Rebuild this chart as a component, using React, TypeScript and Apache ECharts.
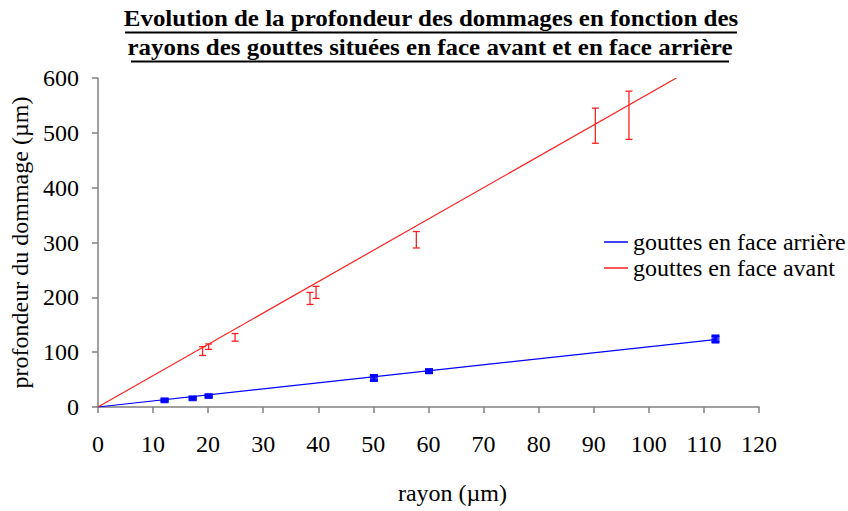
import React, { useEffect, useRef } from "react";
import * as echarts from "echarts";

const titleLines = [
  "Evolution de la profondeur des dommages en fonction des",
  "rayons des gouttes situées en face avant et en face arrière",
];
const xTicks = { min: 0, max: 120, interval: 10 };
const yTicks = { min: 0, max: 600, interval: 100 };

const seriesNames = ["gouttes en face arrière", "gouttes en face avant"];

// face arrière (blue)
const backX = [12.1, 17.2, 20.1, 50.1, 60.1, 112.1];
const backY = [12.2, 15.9, 20, 53, 65.3, 124];
const backErr = [2, 2, 2, 5, 3, 6];
const backTrend = [
  [0, 0],
  [112, 123],
];

// face avant (red)
const frontX = [19.0, 20.1, 24.9, 38.5, 39.6, 57.8, 90.3, 96.4];
const frontY = [102, 110, 127, 198, 209, 305, 513, 532];
const frontErr = [8, 5, 7, 11, 11, 15, 32, 44];
const frontTrend = [
  [0, 0],
  [105, 600],
];

const BLUE = "#0000ff";
const RED = "#ff2020";
const FONT = "Liberation Serif, Times New Roman, serif";

function errData(xs: number[], ys: number[], es: number[]) {
  return xs.map((x, i) => [x, ys[i] - es[i], ys[i] + es[i]]);
}

function errRender(color: string, lw: number, cap: number) {
  return (params: any, api: any) => {
    const x = api.value(0);
    const p1 = api.coord([x, api.value(1)]);
    const p2 = api.coord([x, api.value(2)]);
    const st = { stroke: color, lineWidth: lw };
    return {
      type: "group",
      children: [
        { type: "line", shape: { x1: p1[0], y1: p1[1], x2: p2[0], y2: p2[1] }, style: st },
        { type: "line", shape: { x1: p1[0] - cap, y1: p1[1], x2: p1[0] + cap, y2: p1[1] }, style: st },
        { type: "line", shape: { x1: p2[0] - cap, y1: p2[1], x2: p2[0] + cap, y2: p2[1] }, style: st },
      ],
    };
  };
}

export default function App() {
  const ref = useRef<HTMLDivElement>(null);
  useEffect(() => {
    if (!ref.current) return;
    const chart = echarts.init(ref.current, undefined, { renderer: "svg" });
    const axisLine = { lineStyle: { color: "#808080", width: 1.5 } };
    const titleStyle = (text: string) => ({
      text,
      fontFamily: FONT,
      fontSize: 24,
      fontWeight: "bold",
      fill: "#000",
      align: "center",
      verticalAlign: "middle",
    });
    chart.setOption({
      animation: false,
      backgroundColor: "#ffffff",
      textStyle: { fontFamily: FONT },
      grid: { left: 97, right: 89, top: 78, bottom: 104, containLabel: false },
      graphic: [
        { type: "text", x: 431, y: 18, scaleX: 1.04, style: titleStyle(titleLines[0]) },
        { type: "text", x: 430, y: 47, scaleX: 1.04, style: titleStyle(titleLines[1]) },
        { type: "line", shape: { x1: 125, y1: 32.5, x2: 737, y2: 32.5 }, style: { stroke: "#000", lineWidth: 2 } },
        { type: "line", shape: { x1: 131, y1: 61.5, x2: 729, y2: 61.5 }, style: { stroke: "#000", lineWidth: 2 } },
      ],
      legend: {
        data: seriesNames,
        orient: "vertical",
        left: 599,
        top: 225,
        itemWidth: 24,
        itemHeight: 1.5,
        itemGap: 2,
        icon: "rect",
        textStyle: { fontFamily: FONT, fontSize: 24, color: "#000" },
      },
      xAxis: {
        type: "value",
        min: xTicks.min,
        max: xTicks.max,
        interval: xTicks.interval,
        name: "rayon (µm)",
        nameLocation: "middle",
        nameGap: 74,
        nameTextStyle: { fontFamily: FONT, fontSize: 24, color: "#000", padding: [0, 0, 0, 48] },
        axisLine,
        axisTick: { show: true, length: 6, lineStyle: { color: "#808080", width: 1.5 } },
        axisLabel: { fontFamily: FONT, fontSize: 24, color: "#000", margin: 25 },
        splitLine: { show: false },
      },
      yAxis: {
        type: "value",
        min: yTicks.min,
        max: yTicks.max,
        interval: yTicks.interval,
        name: "profondeur du dommage (µm)",
        nameLocation: "middle",
        nameGap: 60,
        nameTextStyle: { fontFamily: FONT, fontSize: 24, color: "#000" },
        axisLine: { show: true, ...axisLine },
        axisTick: { show: true, length: 6, lineStyle: { color: "#808080", width: 1.5 } },
        axisLabel: { fontFamily: FONT, fontSize: 24, color: "#000", margin: 19 },
        splitLine: { show: false },
      },
      series: [
        {
          name: seriesNames[0],
          type: "line",
          data: backTrend,
          showSymbol: false,
          lineStyle: { color: BLUE, width: 1.2 },
          itemStyle: { color: BLUE },
          z: 2,
        },
        {
          name: seriesNames[1],
          type: "line",
          data: frontTrend,
          showSymbol: false,
          lineStyle: { color: RED, width: 1.2 },
          itemStyle: { color: RED },
          z: 2,
        },
        {
          name: "back-pts",
          type: "scatter",
          data: backX.map((x, i) => [x, backY[i]]),
          symbol: "rect",
          symbolSize: [8, 6],
          itemStyle: { color: BLUE },
          z: 4,
        },
        {
          name: "back-err",
          type: "custom",
          data: errData(backX, backY, backErr),
          renderItem: errRender(BLUE, 2.5, 4),
          encode: { x: 0, y: [1, 2] },
          z: 3,
        },
        {
          name: "front-err",
          type: "custom",
          data: errData(frontX, frontY, frontErr),
          renderItem: errRender(RED, 1.3, 3.5),
          encode: { x: 0, y: [1, 2] },
          z: 3,
        },
      ],
    });
    return () => chart.dispose();
  }, []);
  return <div ref={ref} style={{ width: 848, height: 511, position: "fixed", left: 0, top: 0 }} />;
}
